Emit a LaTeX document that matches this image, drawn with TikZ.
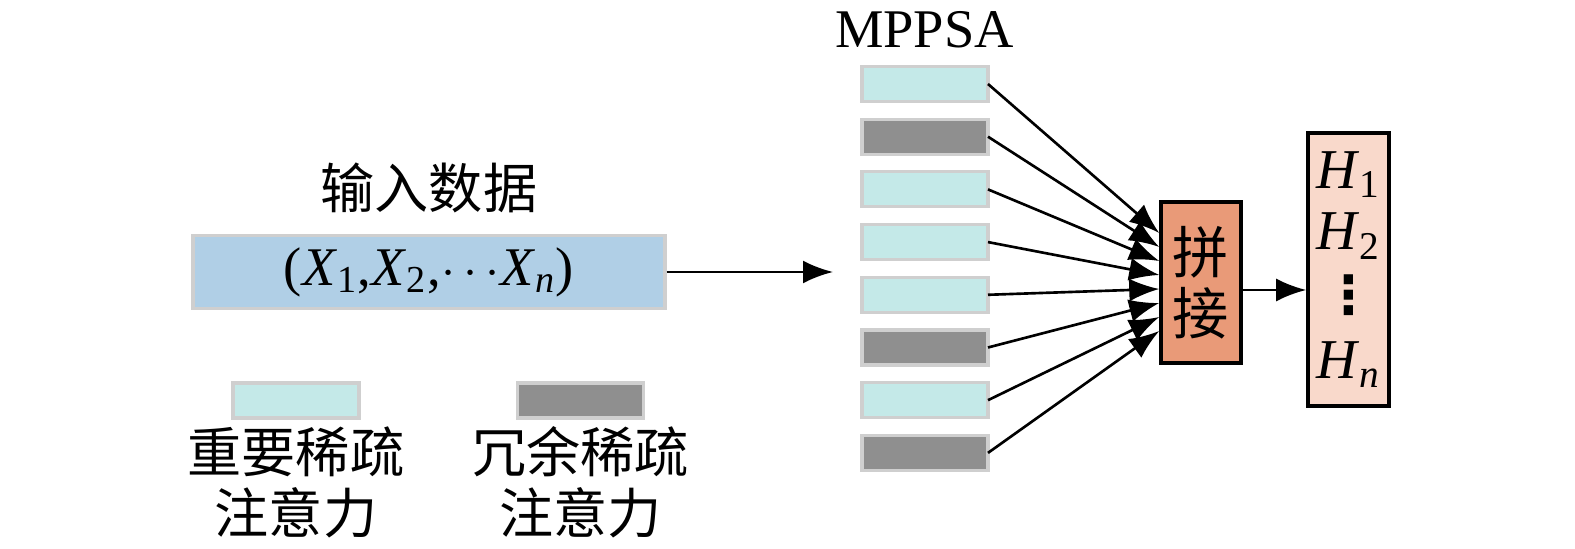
\documentclass[tikz,border=0pt]{standalone}
\usepackage{fontspec}
\setmainfont{Liberation Serif}
\newfontfamily\cjk{Noto Sans CJK SC}
\newfontfamily\symfont{DejaVu Sans}
\usetikzlibrary{arrows.meta,positioning}

\definecolor{inblue}{HTML}{B0CFE6}
\definecolor{rimgray}{HTML}{CFCFCF}
\definecolor{keepcyan}{HTML}{C4E9E8}
\definecolor{dropgray}{HTML}{8F8F8F}
\definecolor{catorange}{HTML}{E99A78}
\definecolor{outpeach}{HTML}{F9D9CB}

\begin{document}
\begin{tikzpicture}[
      every node/.style={font=\fontsize{15.5}{17.3}\selectfont},
      inbox/.style={draw=rimgray, line width=0.9pt, fill=inblue, minimum width=4.72cm, minimum height=0.70cm},
      keep/.style={draw=rimgray, line width=0.9pt, fill=keepcyan, minimum width=1.26cm, minimum height=0.35cm, outer sep=0pt},
      drop/.style={draw=rimgray, line width=0.9pt, fill=dropgray, minimum width=1.26cm, minimum height=0.35cm, outer sep=0pt},
      catbox/.style={draw, line width=1pt, fill=catorange, minimum width=0.80cm, minimum height=1.61cm, align=center, font=\cjk\fontsize{16}{17.3}\selectfont},
      outbox/.style={draw, line width=1pt, fill=outpeach, minimum width=0.81cm, minimum height=2.73cm, inner sep=1pt, align=center, font=\fontsize{16}{17}\selectfont},
      label/.style={align=center, font=\cjk\fontsize{15.4}{17.3}\selectfont},
      arrow/.style={-{Latex[length=3mm,width=2.3mm]}, line width=0.75pt}
  ]
    \useasboundingbox (0,0) rectangle (15.75,5.49);
    % input
    \node[inbox] (in) at (4.29,2.77) {(\textit{X}\textsubscript{1},\textit{X}\textsubscript{2},$\cdots$\textit{X}\textsubscript{\textit{n}})};
    \node[label] (intitle) at (4.29,3.615) {输入数据};
    \coordinate (mp) at (8.33,2.77);
    \draw[arrow] (in) -- (mp);
    % attention heads
    \node (mppsa) at (9.245,5.195) {MPPSA};
    \node[keep] (b1) at (9.25,4.65) {};
    \node[drop, below=0.177cm of b1] (b2) {};
    \node[keep, below=0.177cm of b2] (b3) {};
    \node[keep, below=0.177cm of b3] (b4) {};
    \node[keep, below=0.177cm of b4] (b5) {};
    \node[drop, below=0.177cm of b5] (b6) {};
    \node[keep, below=0.177cm of b6] (b7) {};
    \node[drop, below=0.177cm of b7] (b8) {};
    % concat and output
    \node[catbox] (cat) at (12.01,2.665) {拼\\接};
    \node[outbox] (hb) at (13.485,2.795) {\textit{H}\textsubscript{1}\\[0.5pt]\textit{H}\textsubscript{2}\\[1pt]{\symfont\bfseries\fontsize{15}{15}\selectfont ⋮}\\[1.5pt]\textit{H}\textsubscript{\textit{n}}};
    \draw[arrow] (b1.east) -- ([yshift=0.495cm]cat.west);
    \draw[arrow] (b2.east) -- ([yshift=0.355cm]cat.west);
    \draw[arrow] (b3.east) -- ([yshift=0.215cm]cat.west);
    \draw[arrow] (b4.east) -- ([yshift=0.075cm]cat.west);
    \draw[arrow] (b5.east) -- ([yshift=-0.065cm]cat.west);
    \draw[arrow] (b6.east) -- ([yshift=-0.205cm]cat.west);
    \draw[arrow] (b7.east) -- ([yshift=-0.345cm]cat.west);
    \draw[arrow] (b8.east) -- ([yshift=-0.485cm]cat.west);
    \draw[arrow] ([yshift=-0.075cm]cat.east) -- ([yshift=-0.075cm]cat.east -| hb.west);
    % legend
    \node[keep] (keepkey) at (2.96,1.485) {};
    \node[drop] (dropkey) at (5.805,1.485) {};
    \node[label] (keeptext) at (2.96,0.665) {重要稀疏\\注意力};
    \node[label] (droptext) at (5.805,0.665) {冗余稀疏\\注意力};
  \end{tikzpicture}
\end{document}
